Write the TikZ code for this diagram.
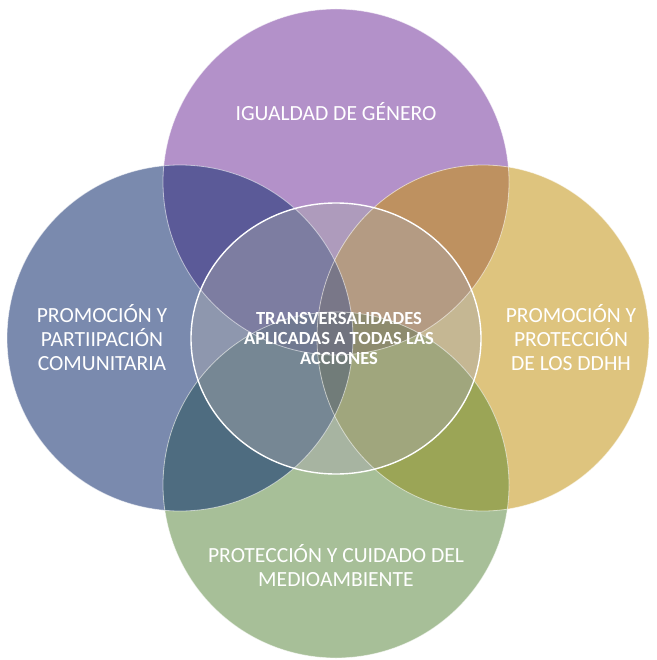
\documentclass[tikz,border=0pt]{standalone}
\usepackage{fontspec}
\setmainfont{Carlito}
\definecolor{purpura}{HTML}{B391C9}
\definecolor{azul}{HTML}{7A8AAE}
\definecolor{oro}{HTML}{DEC47E}
\definecolor{verde}{HTML}{A7BF98}
\definecolor{pa}{HTML}{5B5A98}
\definecolor{po}{HTML}{BE9160}
\definecolor{av}{HTML}{4E6C80}
\definecolor{ov}{HTML}{9BA556}
\definecolor{pao}{HTML}{54506A}
\definecolor{avo}{HTML}{44584F}
\definecolor{pav}{HTML}{42547A}
\definecolor{pov}{HTML}{78743A}
\definecolor{todos}{HTML}{444A5A}
\definecolor{velo}{HTML}{A8A8AE}
\newcommand{\circT}{(336,182) circle[radius=173]}
\newcommand{\circL}{(180,338) circle[radius=173]}
\newcommand{\circR}{(483,338) circle[x radius=166, y radius=173]}
\newcommand{\circB}{(336,485) circle[radius=173]}
\newcommand{\circC}{(336,338.5) circle[x radius=145, y radius=135.5]}
\tikzset{every node/.style={text=white, align=center, inner sep=0pt},
  etiqueta/.style={font=\fontsize{21.6}{24}\selectfont},
  central/.style={font=\bfseries\fontsize{18.5}{20}\selectfont},
  borde/.style={draw=white, draw opacity=0.55, line width=0.8pt}}

\begin{document}
\begin{tikzpicture}[x=1pt,y=-1pt]
  \useasboundingbox (0,0) rectangle (656,660);
  % four outer circles
  \fill[purpura] \circT;
  \fill[azul] \circL;
  \fill[oro] \circR;
  \fill[verde] \circB;
  % overlaps
  \begin{scope} \clip \circT; \fill[pa] \circL; \fill[po] \circR; \end{scope}
  \begin{scope} \clip \circB; \fill[av] \circL; \fill[ov] \circR; \end{scope}
  \begin{scope}
   \clip \circL; \clip \circR;
   \fill[pao] \circT; \fill[avo] \circB;
  \end{scope}
  \begin{scope}
   \clip \circT; \clip \circB;
   \fill[pav] \circL; \fill[pov] \circR;
   \begin{scope} \clip \circL; \fill[todos] \circR; \end{scope}
  \end{scope}
  % center veil
  \fill[velo, opacity=0.45] \circC;
  \draw[borde] \circT;  \draw[borde] \circL;
  \draw[borde] \circR;  \draw[borde] \circB;
  \draw[white, line width=1.4pt] \circC;
  % labels
  \node[etiqueta] (genero) at (336,112) {IGUALDAD DE GÉNERO};
  \node[etiqueta] (comunitaria) at (102,338) {PROMOCIÓN Y\\PARTIIPACIÓN\\COMUNITARIA};
  \node[etiqueta] (ddhh) at (571,338) {PROMOCIÓN Y\\PROTECCIÓN\\DE LOS DDHH};
  \node[etiqueta] (medio) at (336,566) {PROTECCIÓN Y CUIDADO DEL\\MEDIOAMBIENTE};
  \node[central] (transv) at (339,338) {TRANSVERSALIDADES\\APLICADAS A TODAS LAS\\ACCIONES};
\end{tikzpicture}
\end{document}
